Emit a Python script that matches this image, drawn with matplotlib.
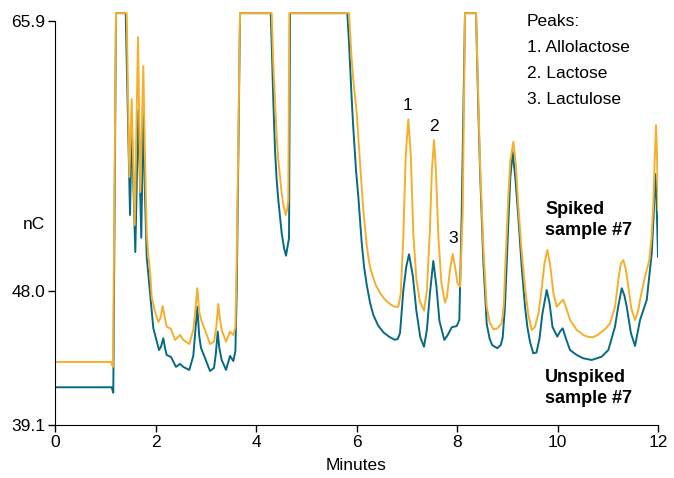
import matplotlib
matplotlib.use('Agg')
import matplotlib.pyplot as plt
from matplotlib import font_manager

names = set(f.name for f in font_manager.fontManager.ttflist)
narrow = 'Liberation Sans Narrow' if 'Liberation Sans Narrow' in names else 'Liberation Sans'
plt.rcParams['font.family'] = [narrow, 'DejaVu Sans']

# spiked sample #7 (minutes, nC)
spiked_t = [0, 1.114, 1.154, 1.214, 1.427, 1.479, 1.526, 1.586, 1.652, 1.698, 1.757, 1.79, 1.825, 1.86,
            1.891, 1.924, 1.99, 2.056, 2.1, 2.143, 2.18, 2.223, 2.308, 2.388, 2.488, 2.553, 2.673, 2.752,
            2.79, 2.832, 2.87, 2.919, 2.985, 3.085, 3.164, 3.21, 3.25, 3.28, 3.317, 3.403, 3.483, 3.548,
            3.59, 3.616, 3.682,
            4.312, 4.345, 4.378, 4.41, 4.444, 4.511, 4.55, 4.591, 4.62, 4.643, 4.663,
            5.851, 5.9, 5.936, 6.004, 6.07, 6.135, 6.203, 6.25, 6.302, 6.38, 6.468, 6.57, 6.667, 6.75,
            6.832, 6.88, 6.93, 6.98, 7.031, 7.08, 7.13, 7.19, 7.26, 7.343, 7.4, 7.46, 7.5, 7.542, 7.58,
            7.63, 7.69, 7.761, 7.8, 7.86, 7.914, 7.96, 8.01, 8.06, 8.113, 8.159,
            8.378, 8.424, 8.458, 8.523, 8.591, 8.65, 8.722, 8.8, 8.889, 8.93, 8.955, 8.99, 9.021, 9.06,
            9.121, 9.17, 9.22, 9.287, 9.353, 9.42, 9.486, 9.55, 9.62, 9.68, 9.74, 9.797, 9.85, 9.92,
            9.984, 10.05, 10.115, 10.18, 10.249, 10.382, 10.513, 10.6, 10.7, 10.79, 10.879, 10.96,
            11.045, 11.144, 11.21, 11.26, 11.309, 11.36, 11.409, 11.47, 11.542, 11.6, 11.642, 11.741,
            11.827, 11.87, 11.907, 11.935, 11.96, 11.98, 12.0]
spiked_nc = [43.28, 43.28, 42.95, 66.42, 66.42, 55.55, 60.72, 52.36, 64.83, 54.55, 62.91, 57.0, 51.83, 50.2,
             49.3, 47.6, 46.6, 45.93, 46.2, 46.99, 46.3, 45.62, 45.47, 44.74, 45.07, 44.74, 44.47, 45.4,
             46.6, 48.17, 46.6, 45.95, 45.4, 44.47, 44.62, 45.6, 47.12, 46.2, 45.4, 44.62, 45.29, 45.07,
             45.6, 50.0, 66.42,
             66.42, 63.0, 60.65, 58.3, 56.67, 54.48, 53.6, 53.03, 53.4, 54.02, 66.42,
             66.42, 63.5, 62.0, 59.79, 56.47, 53.4, 51.0, 49.9, 49.18, 48.4, 47.85, 47.4, 47.12, 46.95,
             46.94, 47.8, 51.5, 57.0, 59.37, 57.0, 51.8, 48.8, 47.3, 46.68, 48.0, 52.0, 56.0, 58.0, 56.0,
             51.5, 48.5, 47.21, 47.6, 49.4, 50.44, 49.6, 48.5, 48.27, 53.16, 66.42,
             66.42, 60.65, 56.47, 50.9, 46.94, 45.9, 45.45, 45.5, 45.84, 47.0, 49.16, 51.8, 54.24, 56.6,
             57.89, 56.4, 53.6, 50.6, 48.2, 46.4, 45.4, 45.6, 46.5, 48.0, 49.8, 50.7, 49.8, 47.8,
             46.94, 47.2, 47.4, 46.8, 46.06, 45.4, 45.07, 44.95, 44.92, 45.05, 45.29, 45.5,
             45.84, 46.94, 48.72, 49.8, 50.04, 49.4, 48.27, 46.8, 46.06, 46.6, 47.39, 48.93,
             50.04, 51.5, 53.8, 56.8, 58.99, 57.0, 53.36]

# unspiked sample #7
unspiked_t = [0, 1.128, 1.16, 1.214, 1.407, 1.493, 1.526, 1.598, 1.658, 1.717, 1.757, 1.79, 1.825, 1.891,
              1.956, 2.07, 2.11, 2.155, 2.19, 2.223, 2.308, 2.408, 2.488, 2.553, 2.673, 2.752, 2.79, 2.832,
              2.87, 2.905, 2.985, 3.085, 3.164, 3.2, 3.238, 3.27, 3.317, 3.403, 3.483, 3.548, 3.59, 3.616,
              3.682,
              4.293, 4.32, 4.344, 4.378, 4.41, 4.444, 4.511, 4.56, 4.597, 4.64, 4.657, 4.677,
              5.817, 5.85, 5.9, 5.936, 5.99, 6.036, 6.103, 6.15, 6.203, 6.27, 6.334, 6.43, 6.533, 6.65,
              6.76, 6.82, 6.866, 6.931, 6.99, 7.045, 7.12, 7.19, 7.27, 7.343, 7.4, 7.46, 7.528, 7.59,
              7.65, 7.747, 7.815, 7.895, 7.994, 8.046, 8.093, 8.159,
              8.378, 8.424, 8.458, 8.523, 8.591, 8.65, 8.7, 8.802, 8.87, 8.909, 8.955, 8.99, 9.021,
              9.06, 9.109, 9.16, 9.22, 9.287, 9.353, 9.4, 9.453, 9.518, 9.58, 9.64, 9.7, 9.785, 9.84,
              9.9, 9.996, 10.05, 10.103, 10.17, 10.249, 10.382, 10.513, 10.681, 10.879, 11.011, 11.144,
              11.21, 11.278, 11.33, 11.377, 11.46, 11.542, 11.642, 11.775, 11.875, 11.91, 11.946,
              11.97, 12.0]
unspiked_nc = [41.6, 41.6, 41.24, 66.42, 66.42, 53.03, 58.99, 50.57, 59.99, 51.52, 59.88, 54.5, 50.26, 47.85,
               45.53, 44.07, 44.3, 44.85, 44.2, 43.74, 43.61, 42.95, 43.15, 42.95, 42.75, 43.68, 45.2, 46.94,
               45.0, 44.21, 43.54, 42.68, 42.88, 43.8, 45.29, 44.2, 43.41, 42.75, 43.68, 43.34, 44.0, 48.0,
               66.42,
               66.42, 63.5, 60.65, 57.34, 55.4, 54.02, 51.83, 50.8, 50.33, 51.2, 51.5, 66.42,
               66.42, 64.5, 61.0, 58.8, 56.0, 54.24, 51.2, 49.6, 48.4, 47.2, 46.4, 45.7, 45.25, 44.95,
               44.75, 44.8, 45.2, 48.0, 49.6, 50.42, 49.0, 46.7, 44.9, 44.29, 45.4, 47.8, 49.98, 48.3,
               46.0, 44.74, 45.07, 45.58, 45.66, 46.06, 53.16, 66.42,
               66.42, 60.0, 56.0, 50.0, 45.8, 44.8, 44.4, 44.19, 44.4, 44.9, 47.0, 50.0, 52.5,
               55.5, 57.2, 55.5, 52.9, 49.6, 46.94, 45.6, 44.6, 43.85, 43.9, 44.8, 46.5, 48.05, 47.2,
               45.6, 44.96, 45.3, 45.51, 44.8, 44.07, 43.74, 43.52, 43.41, 43.63, 44.07, 45.62,
               47.0, 48.17, 47.7, 46.94, 45.2, 44.34, 46.06, 47.39, 50.49, 52.8, 55.74,
               54.0, 50.26]

peak_labels = ['1', '2', '3']
peak_pos = [(7.005, 60.32), (7.542, 58.93), (7.92, 51.5)]
peak_names = ['Allolactose', 'Lactose', 'Lactulose']

orange = '#F5AF2C'
teal = '#066A82'

fig = plt.figure(figsize=(6.74, 4.78), dpi=100)
ax = fig.add_axes([0.0816, 0.111, 0.8947, 0.864])
ax.plot(unspiked_t, unspiked_nc, color=teal, lw=1.4)
ax.plot(spiked_t, spiked_nc, color=orange, lw=1.4)

ax.set_xlim(0, 12)
ax.set_ylim(39.1, 66.5)
ax.set_xticks(range(0, 13, 2))
ax.set_yticks([39.1, 48.0, 65.9])
ax.set_yticklabels(['39.1', '48.0', '65.9'])
ax.spines['top'].set_visible(False)
ax.spines['right'].set_visible(False)
ax.spines['left'].set_bounds(39.1, 65.9)
ax.tick_params(direction='out', length=5, width=1, labelsize=12.5, pad=2)
ax.set_xlabel('Minutes', fontsize=12.5, labelpad=6)
ax.text(-0.2, 52.4, 'nC', fontsize=12.5, ha='right', va='center')

for lab, (px, py) in zip(peak_labels, peak_pos):
    ax.text(px, py, lab, fontsize=12.5, ha='center', va='center')

fig.text(0.782, 0.954, 'Peaks:', fontsize=12.5, va='center')
for i, name in enumerate(peak_names):
    fig.text(0.782, 0.900 - i * 0.0545, f'{i + 1}. {name}', fontsize=12.5, va='center')

fig.text(0.809, 0.539, 'Spiked\nsample #7', fontsize=13, fontweight='bold', va='center', linespacing=1.3)
fig.text(0.809, 0.189, 'Unspiked\nsample #7', fontsize=13, fontweight='bold', va='center', linespacing=1.3)

fig.savefig('out.png', dpi=100)
